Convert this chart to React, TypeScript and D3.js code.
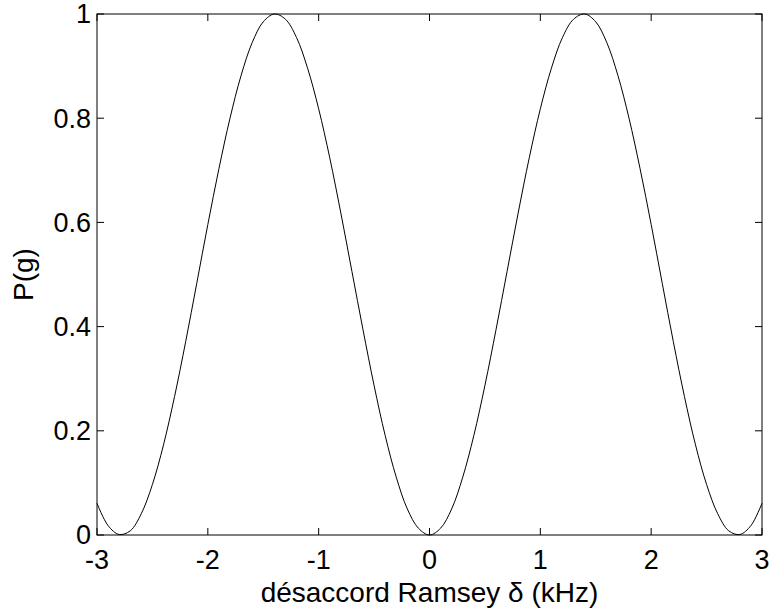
import * as React from 'react';
import * as d3 from 'd3';

// detuning (kHz) and ground-state probability
const detuning = [
  -3.0, -2.9, -2.8, -2.7, -2.6, -2.5, -2.4, -2.3, -2.2, -2.1,
  -2.0, -1.9, -1.8, -1.7, -1.6, -1.5, -1.4, -1.3, -1.2, -1.1,
  -1.0, -0.9, -0.8, -0.7, -0.6, -0.5, -0.4, -0.3, -0.2, -0.1,
  0.0,
  0.1, 0.2, 0.3, 0.4, 0.5, 0.6, 0.7, 0.8, 0.9, 1.0,
  1.1, 1.2, 1.3, 1.4, 1.5, 1.6, 1.7, 1.8, 1.9, 2.0,
  2.1, 2.2, 2.3, 2.4, 2.5, 2.6, 2.7, 2.8, 2.9, 3.0,
];
const probG = [
  0.061, 0.018, 0.001, 0.008, 0.041, 0.097, 0.173, 0.266, 0.371, 0.483,
  0.596, 0.703, 0.800, 0.882, 0.945, 0.985, 1.000, 0.990, 0.955, 0.896,
  0.818, 0.724, 0.618, 0.506, 0.394, 0.287, 0.191, 0.111, 0.050, 0.013,
  0.000,
  0.013, 0.050, 0.111, 0.191, 0.287, 0.394, 0.506, 0.618, 0.724, 0.818,
  0.896, 0.955, 0.990, 1.000, 0.985, 0.945, 0.882, 0.800, 0.703, 0.596,
  0.483, 0.371, 0.266, 0.173, 0.097, 0.041, 0.008, 0.001, 0.018, 0.061,
];
const xTicks = [-3, -2, -1, 0, 1, 2, 3];
const yTicks = [0, 0.2, 0.4, 0.6, 0.8, 1];

const W = 772;
const H = 615;
const left = 97, right = 762, top = 14, bottom = 535;
const tickLen = 7;
const font = 'Arial, "Liberation Sans", sans-serif';

const App: React.FunctionComponent = () => {
  const x = d3.scaleLinear().domain([-3, 3]).range([left, right]);
  const y = d3.scaleLinear().domain([0, 1]).range([bottom, top]);
  const pts = detuning.map((d, i) => [d, probG[i]] as [number, number]);
  const line = d3.line<[number, number]>()
    .x(d => x(d[0]))
    .y(d => y(d[1]))
    .curve(d3.curveCatmullRom.alpha(0.5));

  return (
    <svg width={W} height={H} style={{ position: 'absolute', left: 0, top: 0, display: 'block', background: '#fff' }}>
      <rect x={0} y={0} width={W} height={H} fill="#fff" />
      <path d={line(pts) || ''} fill="none" stroke="#000" strokeWidth={1} />
      <rect x={left} y={top} width={right - left} height={bottom - top} fill="none" stroke="#000" strokeWidth={1} />
      {xTicks.map(t => (
        <g key={'x' + t}>
          <line x1={x(t)} x2={x(t)} y1={bottom} y2={bottom - tickLen} stroke="#000" />
          <line x1={x(t)} x2={x(t)} y1={top} y2={top + tickLen} stroke="#000" />
          <text x={x(t)} y={569} textAnchor="middle" fontFamily={font} fontSize={27} fill="#000">{t}</text>
        </g>
      ))}
      {yTicks.map(t => (
        <g key={'y' + t}>
          <line x1={left} x2={left + tickLen} y1={y(t)} y2={y(t)} stroke="#000" />
          <line x1={right} x2={right - tickLen} y1={y(t)} y2={y(t)} stroke="#000" />
          <text x={91} y={y(t)} dy="0.35em" textAnchor="end" fontFamily={font} fontSize={27} fill="#000">{t}</text>
        </g>
      ))}
      <text x={(left + right) / 2} y={602} textAnchor="middle" fontFamily={font} fontSize={28} fill="#000">
        désaccord Ramsey δ (kHz)
      </text>
      <text transform={`translate(33,${(top + bottom) / 2}) rotate(-90)`} textAnchor="middle" fontFamily={font} fontSize={28} fill="#000">
        P(g)
      </text>
    </svg>
  );
};

export default App;
